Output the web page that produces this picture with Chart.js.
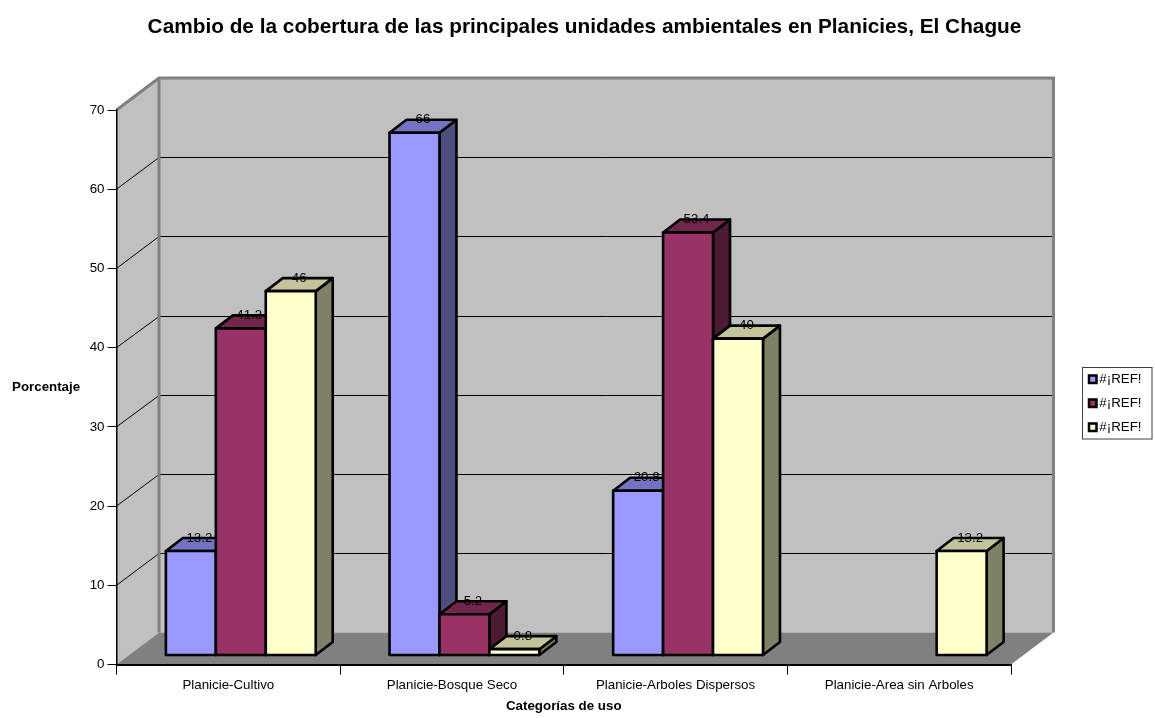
<!DOCTYPE html>
<html>
<head>
<meta charset="utf-8">
<title>Cambio de la cobertura</title>
<script src="https://cdn.jsdelivr.net/npm/chart.js@4/dist/chart.umd.min.js"></script>
<style>
    html, body { margin: 0; padding: 0; background: #fff; }
    canvas { display: block; }
</style>
</head>
<body>
<canvas id="chart" width="1155" height="718"></canvas>
<script>
"use strict";

const categories = [
    "Planicie-Cultivo",
    "Planicie-Bosque Seco",
    "Planicie-Arboles Dispersos",
    "Planicie-Area sin Arboles",
];
const seriesA = [13.2, 66, 20.8, null];
const seriesB = [41.3, 5.2, 53.4, null];
const seriesC = [46, 0.8, 40, 13.2];
const seriesNames = ["#¡REF!", "#¡REF!", "#¡REF!"];
const frontColors = ["#9999ff", "#993366", "#ffffcc"];
const topColors = ["#7373c2", "#73264d", "#c4c49c"];
const sideColors = ["#4d4d80", "#4d1a33", "#808066"];

const chartTitle = "Cambio de la cobertura de las principales unidades ambientales en Planicies, El Chague";
const yTitle = "Porcentaje";
const xTitle = "Categorías de uso";

const FONT = "'Liberation Sans', Arial, sans-serif";
const WALL_DX = 42.5;   // depth of the box
const WALL_DY = -32;
const BAR_DX = 12.5;    // bars stand a little inside the box
const BAR_DY = -9;
const DEPTH_DX = 17;    // depth of one bar
const DEPTH_DY = -13;
const BAR_LINE = 2.6;
const LEGEND_BOX = { left: 1082.5, top: 367.5, right: 1152, bottom: 439 };
const LEGEND_PADDING = 10.67;

function poly(ctx, pts, fill, stroke, width) {
    ctx.beginPath();
    pts.forEach(function (p, i) {
        if (i === 0) {
            ctx.moveTo(p[0], p[1]);
        } else {
            ctx.lineTo(p[0], p[1]);
        }
    });
    ctx.closePath();
    if (fill) {
        ctx.fillStyle = fill;
        ctx.fill();
    }
    if (stroke) {
        ctx.strokeStyle = stroke;
        ctx.lineWidth = width;
        ctx.stroke();
    }
}

const box3d = {
    id: "box3d",
    beforeLayout: function (chart) {
        // the legend column keeps a fixed gutter, whatever its text measures
        const legend = chart.legend;
        if (!legend.fitPatched) {
            const fit = legend.fit;
            legend.fit = function () {
                fit.call(this);
                this.width = 144;
            };
            legend.fitPatched = true;
        }
    },
    afterLayout: function (chart) {
        // bottom stays large, otherwise the legend wraps into a second column
        chart.legend.left = LEGEND_BOX.left + 6.5 - LEGEND_PADDING;
        chart.legend.right = LEGEND_BOX.right - 10.5;
        chart.legend.top = LEGEND_BOX.top + 5 - LEGEND_PADDING;
        chart.legend.bottom = 718;
        chart.titleBlock.left += 14;
    },
    beforeDraw: function (chart) {
        const ctx = chart.ctx;
        const area = chart.chartArea;
        const yScale = chart.scales.y;
        const l = area.left, r = area.right, t = area.top, b = area.bottom;
        const bl = l + WALL_DX, br = r + WALL_DX, bt = t + WALL_DY, bb = b + WALL_DY;

        ctx.save();
        // back and side walls
        poly(ctx, [[bl, bt], [br, bt], [br, bb], [bl, bb]], "#c0c0c0");
        poly(ctx, [[l, t], [bl, bt], [bl, bb], [l, b]], "#c0c0c0");
        // floor
        poly(ctx, [[l, b], [r, b], [br, bb], [bl, bb]], "#808080");

        // gridlines run along the side wall and across the back wall
        yScale.ticks.forEach(function (tick) {
            if (tick.value === yScale.min || tick.value === yScale.max) {
                return;
            }
            const y = yScale.getPixelForValue(tick.value);
            const by = Math.round(y + WALL_DY) + 0.5;
            ctx.beginPath();
            ctx.moveTo(l, y);
            ctx.lineTo(bl, by);
            ctx.lineTo(br, by);
            ctx.strokeStyle = "#000";
            ctx.lineWidth = 1;
            ctx.stroke();
        });

        // grey wall edges
        ctx.beginPath();
        ctx.moveTo(l, t);
        ctx.lineTo(bl, bt);
        ctx.lineTo(br, bt);
        ctx.lineTo(br, bb);
        ctx.moveTo(bl, bt);
        ctx.lineTo(bl, bb);
        ctx.strokeStyle = "#808080";
        ctx.lineWidth = 3;
        ctx.stroke();
        ctx.restore();
    },
    beforeDatasetsDraw: function (chart) {
        const ctx = chart.ctx;
        ctx.save();
        ctx.translate(BAR_DX, BAR_DY);
        ctx.lineJoin = "round";

        // left to right, so each bar covers the side of the one before it
        categories.forEach(function (cat, c) {
            chart.data.datasets.forEach(function (ds, d) {
                if (ds.data[c] === null) {
                    return;
                }
                const bar = chart.getDatasetMeta(d).data[c];
                const p = bar.getProps(["x", "y", "base", "width"]);
                const x0 = p.x - p.width / 2, x1 = p.x + p.width / 2;
                const dx = DEPTH_DX, dy = DEPTH_DY;
                poly(ctx, [[x1, p.y], [x1 + dx, p.y + dy], [x1 + dx, p.base + dy], [x1, p.base]],
                    sideColors[d], "#000", BAR_LINE);
                poly(ctx, [[x0, p.y], [x0 + dx, p.y + dy], [x1 + dx, p.y + dy], [x1, p.y]],
                    topColors[d], "#000", BAR_LINE);
                bar.draw(ctx);
                poly(ctx, [[x0, p.y], [x1, p.y], [x1, p.base], [x0, p.base]], null, "#000", BAR_LINE);
            });
        });

        // value labels sit on the back edge of each bar top
        ctx.font = "13.33px " + FONT;
        ctx.fillStyle = "#000";
        ctx.textAlign = "center";
        ctx.textBaseline = "middle";
        chart.data.datasets.forEach(function (ds, d) {
            chart.getDatasetMeta(d).data.forEach(function (bar, c) {
                if (ds.data[c] !== null) {
                    ctx.fillText(String(ds.data[c]), bar.x + DEPTH_DX / 2, bar.y + DEPTH_DY);
                }
            });
        });
        ctx.restore();
        return false;
    },
    afterDraw: function (chart) {
        const ctx = chart.ctx;
        ctx.save();
        // y title stays horizontal, the scale title option can only rotate it
        ctx.font = "bold 13.33px " + FONT;
        ctx.fillStyle = "#000";
        ctx.textAlign = "left";
        ctx.textBaseline = "middle";
        ctx.fillText(yTitle, 12, 387);
        // legend frame
        ctx.strokeStyle = "#404040";
        ctx.lineWidth = 1;
        ctx.strokeRect(LEGEND_BOX.left, LEGEND_BOX.top,
            LEGEND_BOX.right - LEGEND_BOX.left, LEGEND_BOX.bottom - LEGEND_BOX.top);
        ctx.restore();
    },
};

function makeDataset(idx, values) {
    return {
        label: seriesNames[idx],
        data: values,
        backgroundColor: frontColors[idx],
        borderColor: "#000",
        borderWidth: 2.5,
        borderSkipped: true,
    };
}

new Chart(document.getElementById("chart"), {
    type: "bar",
    data: {
        labels: categories,
        datasets: [makeDataset(0, seriesA), makeDataset(1, seriesB), makeDataset(2, seriesC)],
    },
    plugins: [box3d],
    options: {
        responsive: false,
        animation: false,
        events: [],
        categoryPercentage: 0.67,
        barPercentage: 1,
        layout: { padding: 0 },
        plugins: {
            tooltip: { enabled: false },
            title: {
                display: true,
                text: chartTitle,
                color: "#000",
                font: { family: FONT, size: 20.8, weight: "bold" },
                padding: { top: 14.5, bottom: 70.54 },
            },
            legend: {
                position: "right",
                align: "start",
                labels: {
                    color: "#000",
                    font: { family: FONT, size: 13.33 },
                    boxWidth: 7.5,
                    boxHeight: 7.5,
                    padding: LEGEND_PADDING,
                    textAlign: "right",
                },
            },
        },
        scales: {
            x: {
                grid: { drawOnChartArea: false, drawTicks: true, tickLength: 10, color: "#000" },
                border: { color: "#000", width: 2 },
                ticks: {
                    color: "#000",
                    font: { family: FONT, size: 13.33 },
                    padding: 3,
                    maxRotation: 0,
                    autoSkip: false,
                },
                title: {
                    display: true,
                    text: xTitle,
                    color: "#000",
                    font: { family: FONT, size: 13.33, weight: "bold" },
                    padding: { top: 0, bottom: 4 },
                },
                afterFit: function (scale) {
                    scale.height = 53.5;
                },
            },
            y: {
                min: 0,
                max: 70,
                grid: { drawOnChartArea: false, drawTicks: true, tickLength: 9, color: "#000" },
                border: { color: "#000", width: 1.5 },
                ticks: {
                    stepSize: 10,
                    color: "#000",
                    font: { family: FONT, size: 13.33 },
                    padding: 3,
                },
                afterFit: function (scale) {
                    scale.width = 116.5;
                },
            },
        },
    },
});
</script>
</body>
</html>
